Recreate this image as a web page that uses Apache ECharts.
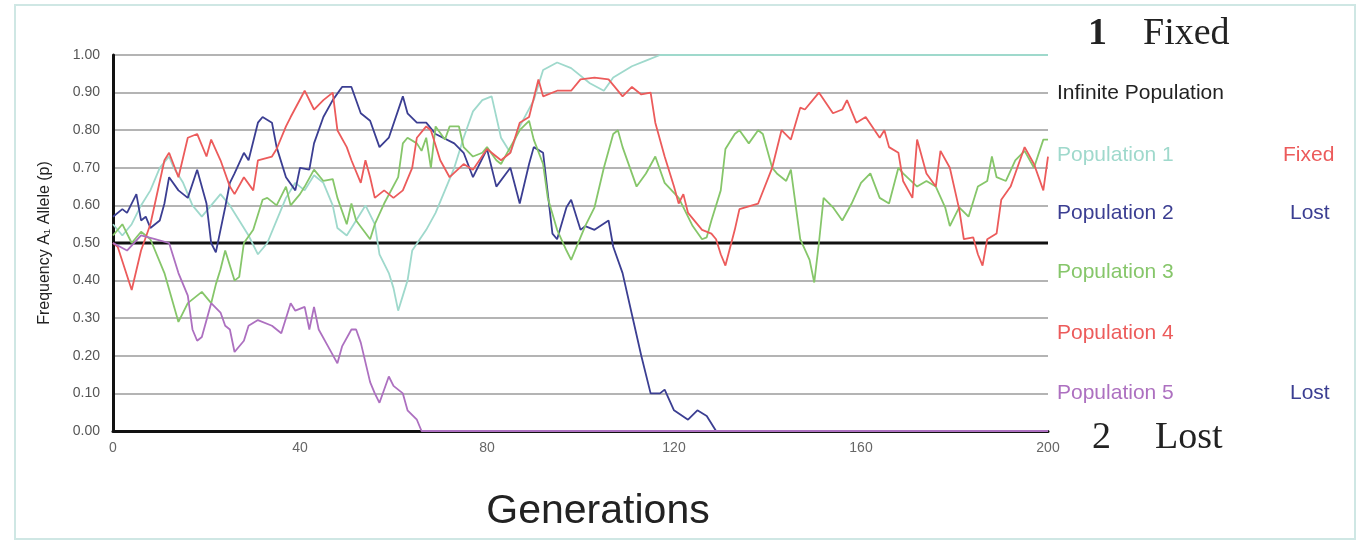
<!DOCTYPE html>
<html><head><meta charset="utf-8">
<script src="https://cdn.jsdelivr.net/npm/echarts/dist/echarts.min.js"></script>
<style>html,body{margin:0;padding:0;background:#fff}#c{width:1365px;height:542px}</style>
</head><body><div id="c"></div><script>
// ---- data ----
const xTickLabels = ['0','40','80','120','160','200'];
const seriesNames = ['Population 1','Population 2','Population 3','Population 4','Population 5'];
const outcomeLabels = ['Fixed','Lost','','','Lost'];

const pop1Gen = [0,2,4,6,8,10,12,13,15,17,19,21,23,25,27,29,31,33,35,37,39,41,43,45,47,48,50,52,54,56,57,59,60,61,62,63,64,67,69,71,73,75,77,79,81,83,85,87,90,92,95,98,102,105,107,111,114,117,200];
const pop1 = [0.55,0.52,0.55,0.60,0.64,0.70,0.73,0.70,0.66,0.60,0.57,0.60,0.63,0.60,0.56,0.52,0.47,0.50,0.56,0.62,0.66,0.64,0.68,0.66,0.60,0.54,0.52,0.56,0.60,0.55,0.47,0.42,0.38,0.32,0.36,0.40,0.48,0.535,0.58,0.64,0.70,0.78,0.85,0.88,0.89,0.78,0.74,0.81,0.88,0.96,0.98,0.965,0.925,0.905,0.94,0.97,0.985,1.0,1.0];

const pop2Gen = [0,2,3,5,6,7,8,10,11,12,14,16,18,20,21,22,24,25,26,28,29,31,32,34,35,37,39,40,42,43,45,47,49,51,53,55,57,59,62,63,65,67,69,73,75,77,80,82,85,87,89,90,92,94,95,97,98,100,101,103,106,107,109,111,113,115,117,118,120,123,125,127,129,200];
const pop2 = [0.57,0.59,0.58,0.63,0.56,0.57,0.54,0.56,0.605,0.675,0.64,0.62,0.695,0.605,0.50,0.475,0.595,0.66,0.685,0.74,0.72,0.82,0.835,0.82,0.755,0.675,0.64,0.70,0.695,0.765,0.835,0.88,0.915,0.915,0.845,0.825,0.755,0.78,0.89,0.845,0.82,0.82,0.79,0.765,0.74,0.675,0.75,0.65,0.70,0.605,0.71,0.755,0.74,0.525,0.51,0.595,0.615,0.535,0.545,0.535,0.56,0.49,0.42,0.31,0.20,0.10,0.10,0.11,0.055,0.03,0.055,0.04,0.0,0.0];

const pop3Gen = [0,2,4,6,8,11,14,16,19,21,22,23,24,26,27,28,30,32,33,35,37,38,40,41,43,45,47,48,50,51,52,55,56,58,61,62,63,65,66,67,68,69,71,72,74,75,77,79,80,82,83,85,87,89,90,92,93,95,97,98,100,101,103,105,107,108,109,112,114,116,118,121,124,126,127,128,130,131,133,134,136,138,139,141,142,144,145,147,149,150,151,152,154,156,158,160,162,164,166,168,169,172,174,176,178,179,181,183,185,187,188,189,191,193,195,197,199,200];
const pop3 = [0.52,0.55,0.50,0.53,0.51,0.42,0.29,0.34,0.37,0.34,0.39,0.43,0.48,0.40,0.41,0.50,0.535,0.615,0.62,0.60,0.65,0.60,0.63,0.65,0.695,0.665,0.67,0.62,0.55,0.605,0.56,0.51,0.55,0.605,0.675,0.765,0.78,0.765,0.745,0.78,0.70,0.81,0.775,0.81,0.81,0.755,0.73,0.74,0.755,0.72,0.71,0.755,0.80,0.825,0.775,0.71,0.62,0.535,0.48,0.455,0.515,0.545,0.595,0.70,0.79,0.80,0.755,0.65,0.685,0.73,0.66,0.62,0.545,0.51,0.515,0.56,0.64,0.75,0.79,0.80,0.765,0.80,0.79,0.70,0.685,0.665,0.695,0.51,0.455,0.395,0.50,0.62,0.595,0.56,0.605,0.66,0.685,0.62,0.605,0.70,0.685,0.65,0.665,0.65,0.595,0.545,0.595,0.57,0.65,0.665,0.73,0.675,0.665,0.72,0.745,0.70,0.775,0.775];

const pop4Gen = [0,1,4,6,8,11,12,14,16,18,20,21,23,25,26,28,30,31,34,35,37,38,41,43,45,47,48,50,51,53,54,55,56,58,60,62,64,65,67,68,70,72,75,77,80,83,85,87,89,91,92,95,98,100,103,106,109,111,113,115,116,118,120,121,122,123,126,128,129,130,131,133,134,138,141,143,145,147,148,151,154,156,157,159,161,164,165,166,168,169,171,172,174,176,177,179,181,182,184,185,186,187,189,190,192,193,195,197,199,200];
const pop4 = [0.50,0.49,0.375,0.48,0.55,0.72,0.74,0.675,0.78,0.79,0.73,0.775,0.72,0.65,0.63,0.675,0.64,0.72,0.73,0.75,0.81,0.835,0.905,0.855,0.88,0.90,0.80,0.755,0.72,0.66,0.72,0.675,0.62,0.64,0.62,0.64,0.70,0.78,0.81,0.80,0.72,0.675,0.71,0.695,0.75,0.72,0.74,0.82,0.835,0.935,0.89,0.905,0.905,0.935,0.94,0.935,0.89,0.915,0.895,0.90,0.82,0.73,0.65,0.605,0.63,0.58,0.535,0.525,0.51,0.47,0.44,0.535,0.59,0.605,0.70,0.80,0.775,0.86,0.855,0.90,0.845,0.855,0.88,0.82,0.835,0.78,0.80,0.755,0.74,0.665,0.62,0.775,0.685,0.65,0.745,0.70,0.59,0.51,0.515,0.47,0.44,0.51,0.525,0.615,0.65,0.685,0.755,0.71,0.64,0.73];

const pop5Gen = [0,3,6,9,12,14,16,17,18,19,21,23,24,25,26,28,29,31,34,36,38,39,41,42,43,44,46,48,49,51,52,53,55,56,57,59,60,62,63,65,66,200];
const pop5 = [0.50,0.48,0.52,0.51,0.50,0.42,0.36,0.27,0.24,0.25,0.34,0.315,0.28,0.27,0.21,0.24,0.28,0.295,0.28,0.26,0.34,0.32,0.33,0.27,0.33,0.27,0.225,0.18,0.225,0.27,0.27,0.235,0.13,0.10,0.075,0.145,0.12,0.10,0.055,0.03,0.0,0.0];

const infiniteGen = [0,200];
const infinite = [0.5,0.5];

// ---- styles ----
const colors = ['#9fd9cc','#3b3e92','#86c66a','#ec5b5b','#ad70c0'];
const legendY = [155,213,272,333,393];

function pairs(g, v){ return g.map((x,i)=>[x, v[i]]); }

const gens = [pop1Gen,pop2Gen,pop3Gen,pop4Gen,pop5Gen];
const vals = [pop1,pop2,pop3,pop4,pop5];
const drawOrder = [0,2,4,3,1];

const series = [{
  name:'Infinite Population', type:'line', data:pairs(infiniteGen, infinite),
  showSymbol:false, lineStyle:{color:'#111', width:3}, z:1, silent:true
}];
drawOrder.forEach(i=>{
  series.push({name:seriesNames[i], type:'line', data:pairs(gens[i], vals[i]),
    showSymbol:false, clip:false, lineStyle:{color:colors[i], width:1.8}, z:3+i});
});

const sans = 'Liberation Sans, Arial, sans-serif';
const serif = 'Liberation Serif, Times New Roman, serif';
const graphic = [
  {type:'rect', shape:{x:15,y:5,width:1340,height:534}, style:{fill:'none', stroke:'#cfe7e4', lineWidth:2}, silent:true},
  {type:'text', left:1088, top:15, style:{text:'1', font:'bold 38px '+serif, fill:'#222'}},
  {type:'text', left:1143, top:15, style:{text:'Fixed', font:'38px '+serif, fill:'#222'}},
  {type:'text', left:1092, top:419, style:{text:'2', font:'38px '+serif, fill:'#222'}},
  {type:'text', left:1155, top:419, style:{text:'Lost', font:'38px '+serif, fill:'#222'}},
  {type:'text', x:1057, y:93, style:{text:'Infinite Population', font:'21px '+sans, fill:'#222', verticalAlign:'middle'}},
  {type:'text', x:598, y:512, style:{text:'Generations', font:'41px '+sans, fill:'#222', align:'center', verticalAlign:'middle'}}
];
seriesNames.forEach((n,i)=>{
  graphic.push({type:'text', x:1057, y:legendY[i], style:{text:n, font:'21px '+sans, fill:colors[i], verticalAlign:'middle'}});
  if (outcomeLabels[i]) {
    const c = outcomeLabels[i]==='Fixed' ? colors[3] : colors[1];
    graphic.push({type:'text', x: outcomeLabels[i]==='Fixed'?1283:1290, y:legendY[i], style:{text:outcomeLabels[i], font:'21px '+sans, fill:c, verticalAlign:'middle'}});
  }
});

const chart = echarts.init(document.getElementById('c'), null, {renderer:'canvas'});
chart.setOption({
  animation:false,
  backgroundColor:'#fff',
  grid:{left:113, right:317, top:55, bottom:111},
  xAxis:{type:'value', min:0, max:200, interval:40,
    axisLine:{show:true, onZero:false, lineStyle:{color:'#111', width:3}},
    axisTick:{show:false},
    axisLabel:{fontSize:14, color:'#666', fontFamily:sans, margin:10,
      formatter:(v)=>xTickLabels[Math.round(v/40)]},
    splitLine:{show:false}},
  yAxis:{type:'value', min:0, max:1, interval:0.1,
    name:'Frequency A\u2081 Allele (p)', nameLocation:'middle', nameGap:60, nameRotate:90,
    nameTextStyle:{fontSize:16, fontFamily:sans, color:'#222'},
    axisLine:{show:true, lineStyle:{color:'#111', width:3}},
    axisTick:{show:false},
    axisLabel:{fontSize:14, color:'#555', fontFamily:sans, margin:13, formatter:(v)=>v.toFixed(2)},
    splitLine:{show:true, lineStyle:{color:'#b4b4b4', width:2}}},
  graphic:graphic,
  series:series
});
</script></body></html>
